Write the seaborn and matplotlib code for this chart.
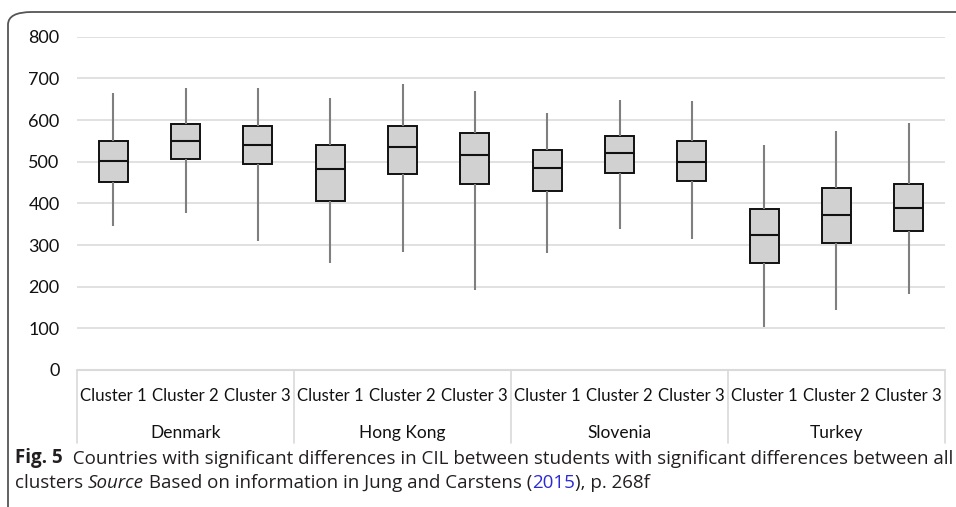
import matplotlib
matplotlib.use("Agg")
import matplotlib.pyplot as plt
from matplotlib.patches import FancyBboxPatch
import matplotlib.transforms as mtransforms
import seaborn as sns
import pandas as pd

countries = ["Denmark", "Hong Kong", "Slovenia", "Turkey"]
clusters = ["Cluster 1", "Cluster 2", "Cluster 3"]
whisker_low = [346, 378, 310, 258, 284, 191, 282, 339, 315, 104, 145, 183]
q1 = [452, 506, 494, 405, 470, 446, 430, 474, 454, 258, 306, 334]
median = [502, 550, 539, 483, 535, 516, 485, 522, 499, 324, 371, 389]
q3 = [550, 591, 586, 541, 586, 569, 527, 562, 550, 386, 438, 446]
whisker_high = [664, 678, 676, 654, 686, 670, 616, 647, 645, 539, 573, 592]
y_ticks = [0, 100, 200, 300, 400, 500, 600, 700, 800]

sns.set_theme(style="white")
plt.rcParams["font.family"] = ["Lato", "DejaVu Sans"]

order = [f"{c}|{k}" for c in countries for k in clusters]
rows = []
for i, g in enumerate(order):
    for v in (whisker_low[i], q1[i], median[i], q3[i], whisker_high[i]):
        rows.append({"group": g, "value": v})
df = pd.DataFrame(rows)

W, H = 956, 507
fig = plt.figure(figsize=(W / 100, H / 100), dpi=100)
ax_l, ax_r, ax_b, ax_t = 77, 945, 370, 36.7
ax = fig.add_axes([ax_l / W, 1 - ax_b / H, (ax_r - ax_l) / W, (ax_b - ax_t) / H])

sns.boxplot(data=df, x="group", y="value", order=order, ax=ax,
            whis=(0, 100), showcaps=False, width=0.4, saturation=1,
            color="#d0d1d0", linecolor="#111111", linewidth=1.4,
            whiskerprops={"color": "#7f7f7f", "linewidth": 1.5},
            medianprops={"color": "#111111", "linewidth": 1.5},
            flierprops={"marker": ""})

ax.set_xlim(-0.5, 11.5)
ax.set_ylim(0, 800)
ax.set_yticks(y_ticks)
ax.set_yticklabels([str(t) for t in y_ticks], fontsize=13, color="#111111")
ax.tick_params(axis="y", length=0, pad=12.5)
ax.set_xticks([])
ax.set_xlabel("")
ax.set_ylabel("")
for s in ax.spines.values():
    s.set_visible(False)
ax.yaxis.grid(True, color="#dcdcdc", linewidth=1.2)
ax.set_axisbelow(True)
ax.axhline(0, color="#d9d9d9", linewidth=1.5, clip_on=False, zorder=0)

trans = mtransforms.blended_transform_factory(ax.transData, ax.transAxes)
ph = ax_b - ax_t
for i, g in enumerate(order):
    ax.text(i, -(396 - 370) / ph, g.split("|")[1], transform=trans,
            ha="center", va="center", fontsize=12.1, color="#111111")
for j, c in enumerate(countries):
    ax.text(3 * j + 1, -(433 - 370) / ph, c, transform=trans,
            ha="center", va="center", fontsize=12.5, color="#111111")
for x in [-0.5, 2.5, 5.5, 8.5, 11.5]:
    ax.plot([x, x], [0, -(443 - 370) / ph], transform=trans,
            color="#d9d9d9", linewidth=1.2, clip_on=False)

# frame
frame = FancyBboxPatch((8 / W, -0.2), 1.2, 1 - 12 / H + 0.2,
                       boxstyle="round,pad=0,rounding_size=0.025",
                       transform=fig.transFigure, fill=False,
                       edgecolor="#555555", linewidth=1.3, clip_on=True)
fig.patches.append(frame)

cap_fs = 13.5
capfam = ["Open Sans", "DejaVu Sans"]
t1 = fig.text(15 / W, 1 - 458 / H, "Fig. 5", fontsize=cap_fs, fontweight="bold",
              family=capfam, va="center", ha="left", color="#231f20")
fig.add_artist(plt.Annotation(
    "  Countries with significant differences in CIL between students with significant differences between all",
    xy=(1, 0), xycoords=t1, xytext=(0, 0), textcoords="offset points",
    va="bottom", ha="left", fontsize=cap_fs, family=capfam, color="#231f20"))

parts = [("clusters ", "normal", "#231f20"), ("Source", "italic", "#231f20"),
         (" Based on information in Jung and Carstens (", "normal", "#231f20"),
         ("2015", "normal", "#2b2bd6"), ("), p. 268f", "normal", "#231f20")]
prev = fig.text(15 / W, 1 - 483 / H, parts[0][0], fontsize=cap_fs, family=capfam,
                va="center", ha="left", color=parts[0][2])
for txt, style, col in parts[1:]:
    prev = fig.add_artist(plt.Annotation(
        txt, xy=(1, 0), xycoords=prev, xytext=(0, 0), textcoords="offset points",
        va="bottom", ha="left", fontsize=cap_fs, family=capfam, color=col,
        fontstyle=style))

fig.savefig("out.png", dpi=100)
